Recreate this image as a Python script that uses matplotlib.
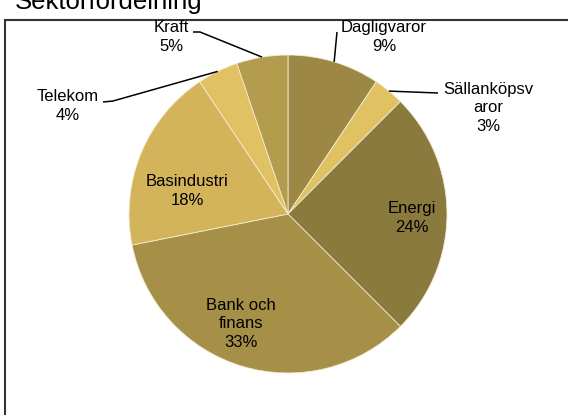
import numpy as np
import matplotlib.pyplot as plt
from matplotlib.patches import Rectangle

# sector data (values shown directly as percent labels)
sectors = ["Dagligvaror", "Sällanköpsvaror", "Energi", "Bank och finans",
           "Basindustri", "Telekom", "Kraft"]
label_text = ["Dagligvaror", "Sällanköpsv\naror", "Energi", "Bank och\nfinans",
              "Basindustri", "Telekom", "Kraft"]
values = [9, 3, 24, 33, 18, 4, 5]
colors = ["#9C8745", "#E0C262", "#8B7A3E", "#A69048", "#D3B45A", "#E0C262", "#B39C4E"]

W, H = 568, 415
plt.rcParams["font.family"] = ["Liberation Sans", "DejaVu Sans"]
fig = plt.figure(figsize=(W / 100, H / 100), dpi=100)
ax = fig.add_axes([0, 0, 1, 1])

# chart frame (cropped at right and bottom)
ax.add_patch(Rectangle((5, -20), W + 20, H - 20 + 20, fill=False,
                       edgecolor="#333333", linewidth=1.5))
ax.text(15, H - 9, "Sektorfördelning", fontsize=18.5, va="baseline", ha="left")

cx, cy, r = 288, H - 214, 159
wedges, _ = ax.pie(values, colors=colors, startangle=90, counterclock=False,
                   center=(cx, cy), radius=r, frame=True,
                   wedgeprops=dict(edgecolor="#F2EBD2", linewidth=0.6))
ax.set_xlim(0, W)
ax.set_ylim(0, H)
ax.set_aspect("equal")
ax.axis("off")

fs = 12
ls = 1.32
# inside labels: (x, y) centre in pixel layout
inside = {2: (412, 218), 3: (241, 324), 4: (187, 191)}
for i, (x, y) in inside.items():
    ax.text(x, H - y, f"{label_text[i]}\n{values[i]}%", ha="center", va="center",
            fontsize=fs, linespacing=ls)

# outside labels with leader lines: label centre, line start, elbow
outside = {
    0: ((384, 37), (337, 32), None),
    1: ((488, 108), (438, 93), None),
    5: ((68, 106), (103, 102), (113, 101)),
    6: ((171, 37), (193, 32), (200, 32)),
}
for i, (lab, start, elbow) in outside.items():
    w = wedges[i]
    mid = np.deg2rad((w.theta1 + w.theta2) / 2)
    ex, ey = cx + r * np.cos(mid), cy + r * np.sin(mid)
    xs = [start[0]] + ([elbow[0]] if elbow else []) + [ex]
    ys = [H - start[1]] + ([H - elbow[1]] if elbow else []) + [ey]
    ax.plot(xs, ys, color="black", linewidth=1.1, solid_capstyle="butt")
    ax.text(lab[0], H - lab[1], f"{label_text[i]}\n{values[i]}%", ha="center",
            va="center", fontsize=fs, linespacing=ls)

fig.savefig("out.png", dpi=100)
